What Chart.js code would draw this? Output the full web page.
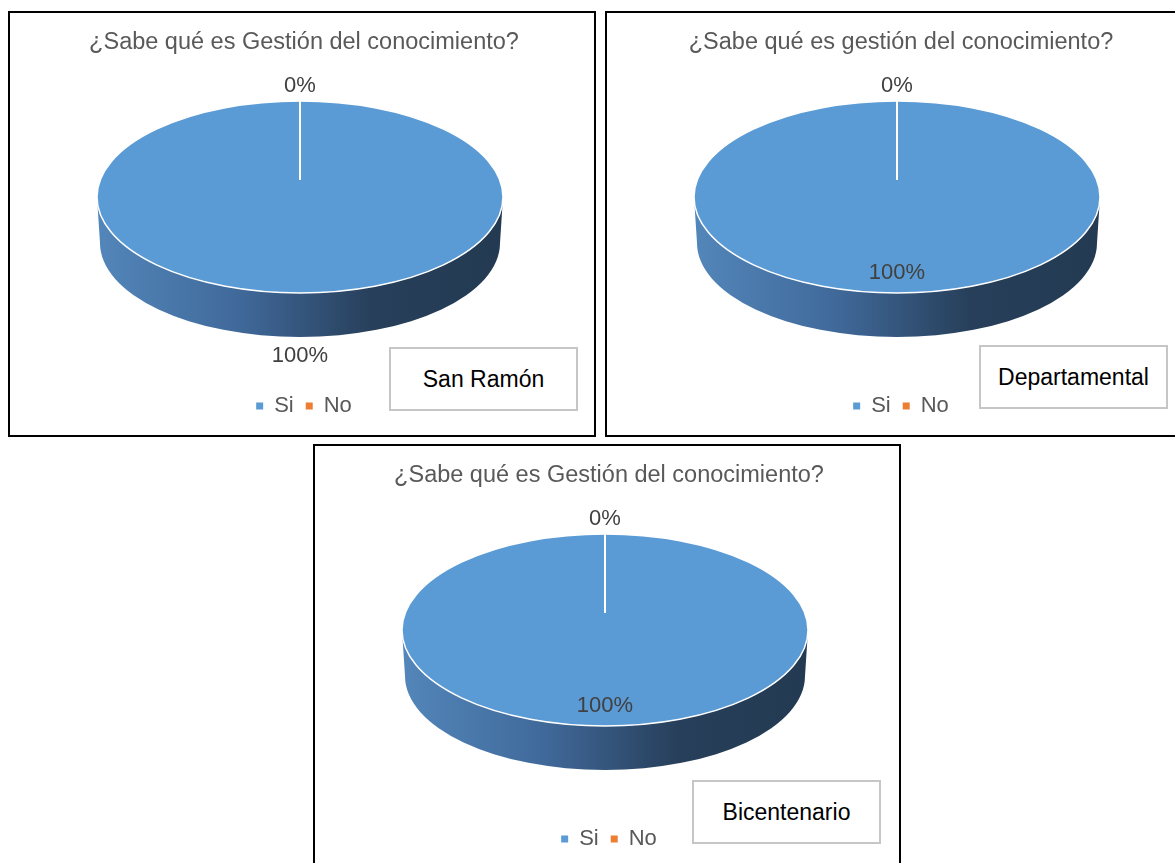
<!DOCTYPE html>
<html>
<head>
<meta charset="utf-8">
<script src="https://cdn.jsdelivr.net/npm/chart.js@4.4.0/dist/chart.umd.min.js"></script>
<style>
  html, body { margin: 0; padding: 0; background: #fff; }
  body { width: 1175px; height: 863px; overflow: hidden; position: relative; font-family: "Liberation Sans", Arial, sans-serif; }
  .panel { position: absolute; box-sizing: border-box; width: 588px; height: 426px; border: 2px solid #000; background: #fff; }
  .panel canvas { position: absolute; left: 0; top: 0; }
  .tag { position: absolute; box-sizing: border-box; width: 189px; height: 64px; border: 2px solid #c6c6c6;
         display: flex; align-items: center; justify-content: center; font-size: 23px; color: #000; background: #fff; }
</style>
</head>
<body>
<div class="panel" style="left:8px; top:11px;">
  <canvas id="c1" width="584" height="422"></canvas>
  <div class="tag" style="left:379px; top:334px;">San Ramón</div>
</div>
<div class="panel" style="left:605px; top:11px;">
  <canvas id="c2" width="584" height="422"></canvas>
  <div class="tag" style="left:372px; top:332px;">Departamental</div>
</div>
<div class="panel" style="left:313px; top:444px; height:430px;">
  <canvas id="c3" width="584" height="422"></canvas>
  <div class="tag" style="left:377px; top:334px;">Bicentenario</div>
</div>
<script>
// data
const categories = ['Si', 'No'];
const sanRamonValues = [100, 0];
const departamentalValues = [100, 0];
const bicentenarioValues = [100, 0];
const titles = [
  '¿Sabe qué es Gestión del conocimiento?',
  '¿Sabe qué es gestión del conocimiento?',
  '¿Sabe qué es Gestión del conocimiento?'
];
const sliceColors = ['#5B9BD5', '#ED7D31'];

Chart.defaults.font.family = '"Liberation Sans", Arial, sans-serif';

// squashes the pie into an ellipse and adds the side wall
const pie3d = {
  id: 'pie3d',
  beforeDatasetsDraw(chart, args, opts) {
    const ctx = chart.ctx;
    const arc = chart.getDatasetMeta(0).data[0];
    const cy = arc.y, r = arc.outerRadius;
    const cx = arc.x + opts.dx;
    const ty = opts.centerY, ry = opts.ry, d = opts.depth;

    const g = ctx.createLinearGradient(cx - r, 0, cx + r, 0);
    g.addColorStop(0, '#5386ba');
    g.addColorStop(0.35, '#40699a');
    g.addColorStop(0.68, '#273f5a');
    g.addColorStop(1, '#233a52');
    ctx.save();
    ctx.beginPath();
    ctx.ellipse(cx, ty, r, ry, 0, 0, Math.PI);
    ctx.lineTo(cx - r + 3, ty + d);
    ctx.ellipse(cx, ty + d, r - 3, ry - 2, 0, Math.PI, 0, true);
    ctx.closePath();
    ctx.fillStyle = g;
    ctx.fill();
    ctx.restore();

    ctx.save();
    ctx.translate(cx, ty);
    ctx.scale(1, ry / r);
    ctx.translate(-arc.x, -cy);
  },
  afterDatasetsDraw(chart, args, opts) {
    const ctx = chart.ctx;
    const meta = chart.getDatasetMeta(0);
    const arc0 = meta.data[0];
    const px = arc0.x, cy = arc0.y, r = arc0.outerRadius;

    // slice boundaries, still in pie space
    ctx.strokeStyle = '#ffffff';
    ctx.lineWidth = 2;
    meta.data.forEach(a => {
      ctx.beginPath();
      ctx.moveTo(px + Math.cos(a.startAngle) * r * 0.18, cy + Math.sin(a.startAngle) * r * 0.18);
      ctx.lineTo(px + Math.cos(a.startAngle) * r, cy + Math.sin(a.startAngle) * r);
      ctx.stroke();
    });
    ctx.restore();

    const cx = px + opts.dx;
    const ty = opts.centerY, ry = opts.ry, d = opts.depth;
    ctx.save();
    ctx.strokeStyle = '#ffffff';
    ctx.lineWidth = 1.5;
    ctx.beginPath();
    ctx.ellipse(cx, ty, r, ry, 0, 0, Math.PI * 2);
    ctx.stroke();

    // percentage labels
    const values = chart.data.datasets[0].data;
    const total = values.reduce((s, v) => s + v, 0);
    ctx.fillStyle = '#404040';
    ctx.font = '22px "Liberation Sans", Arial, sans-serif';
    ctx.textAlign = 'center';
    ctx.textBaseline = 'middle';
    meta.data.forEach((a, i) => {
      const mid = (a.startAngle + a.endAngle) / 2;
      const c = Math.cos(mid), s = Math.sin(mid);
      let x, y;
      if (opts.labelModes[i] === 'inside') {
        x = cx + (r - 21) * c;
        y = ty + (ry - 21) * s;
      } else {
        x = cx + (r + 16) * c;
        y = ty + (ry + 16) * s + (s > 0 ? d : 0);
      }
      ctx.fillText(Math.round(values[i] / total * 100) + '%', x, y + 1);
    });
    ctx.restore();
  }
};

function makeChart(id, title, values, labelModes) {
  return new Chart(document.getElementById(id), {
    type: 'pie',
    data: {
      labels: categories,
      datasets: [{
        data: values,
        backgroundColor: sliceColors,
        borderWidth: 0,
        clip: false
      }]
    },
    options: {
      responsive: false,
      animation: false,
      devicePixelRatio: 1,
      radius: 203,
      layout: { padding: { bottom: 8, left: 4 } },
      plugins: {
        title: {
          display: true,
          text: title,
          color: '#595959',
          font: { size: 23.5, weight: 'normal' },
          padding: { top: 15, bottom: 10 }
        },
        legend: {
          position: 'bottom',
          labels: {
            boxWidth: 7,
            boxHeight: 7,
            color: '#595959',
            font: { size: 22 },
            padding: 12
          }
        },
        tooltip: { enabled: false },
        pie3d: { centerY: 184, ry: 96, depth: 46, dx: -4, labelModes: labelModes }
      }
    },
    plugins: [pie3d]
  });
}

makeChart('c1', titles[0], sanRamonValues, ['outside', 'outside']);
makeChart('c2', titles[1], departamentalValues, ['inside', 'outside']);
makeChart('c3', titles[2], bicentenarioValues, ['inside', 'outside']);
</script>
</body>
</html>
